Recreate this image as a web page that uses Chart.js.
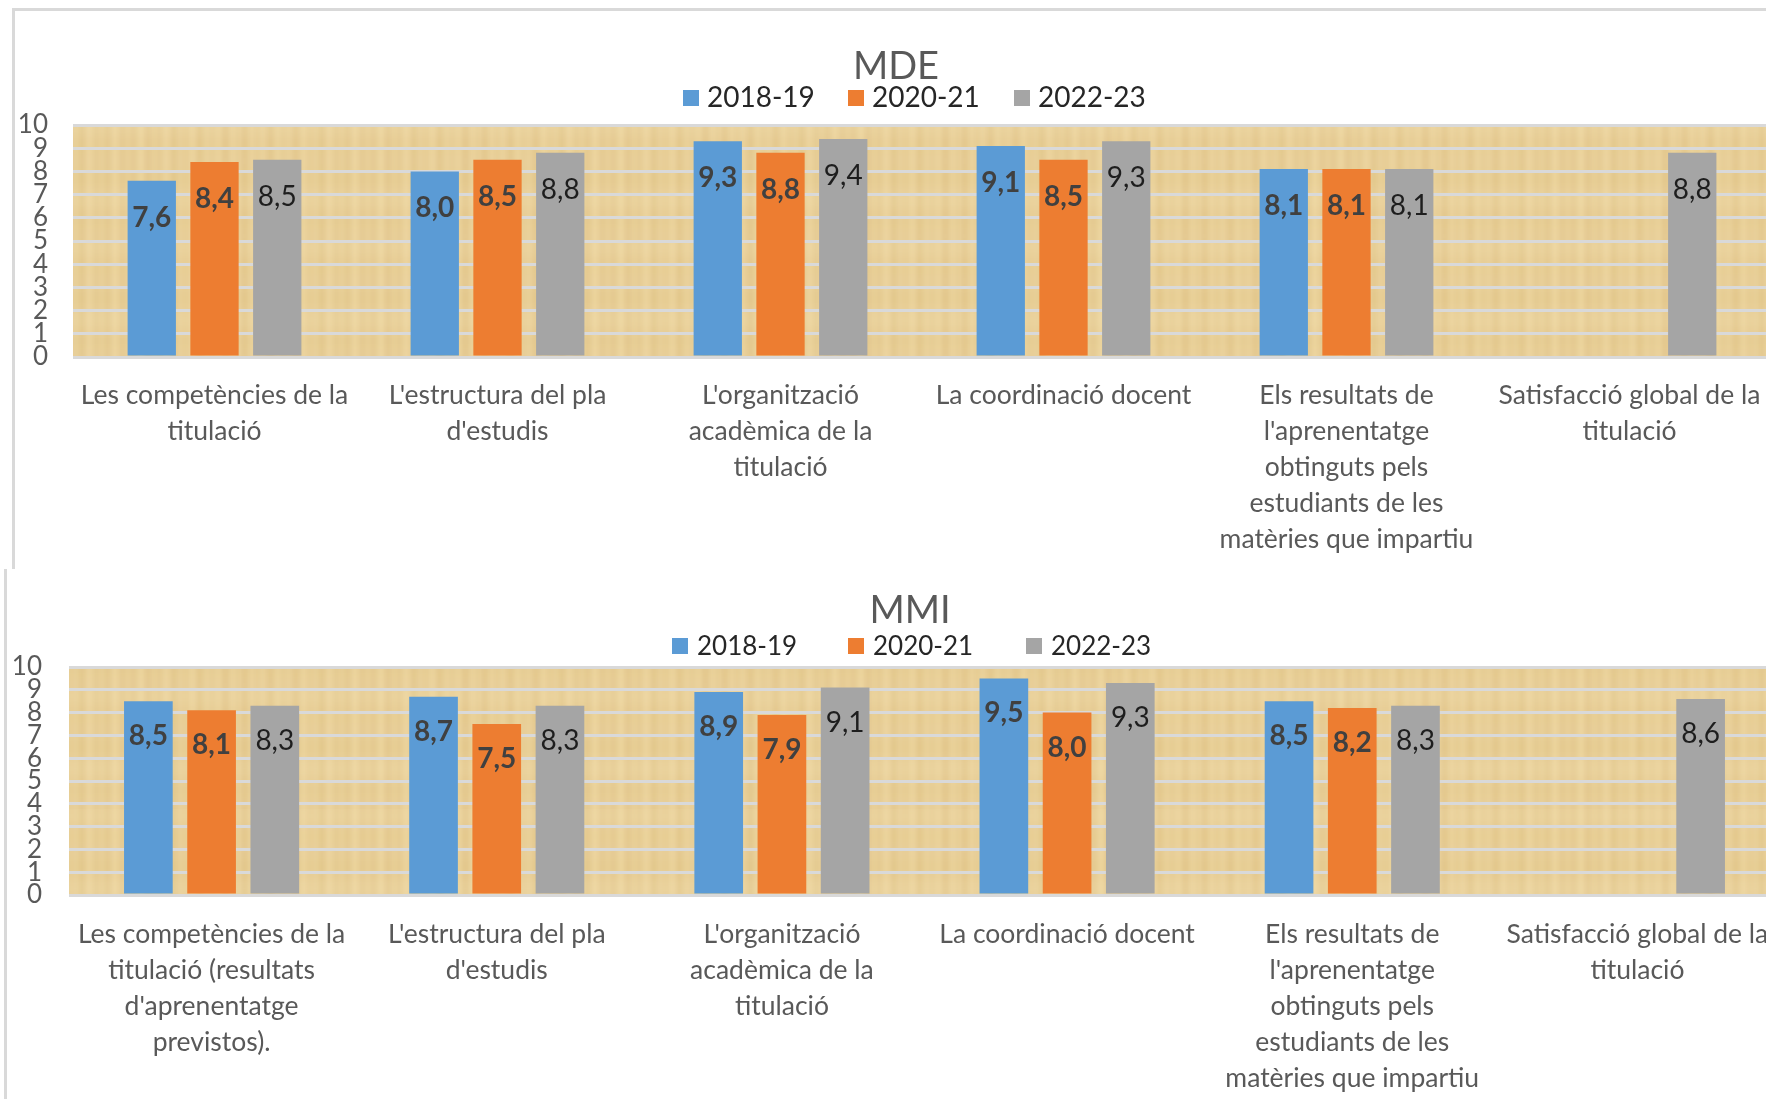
<!DOCTYPE html>
<html lang="ca">
<head>
<meta charset="utf-8">
<title>MDE / MMI</title>
<script src="https://cdn.jsdelivr.net/npm/chart.js@4.4.1/dist/chart.umd.min.js"></script>
<style>
  html, body { margin: 0; padding: 0; background: #fff; }
  body { width: 1766px; height: 1099px; overflow: hidden; position: relative; }
  .frame { position: absolute; background: #fff; box-sizing: border-box; }
  #frame-mde { left: 12px; top: 8px; width: 1900px; height: 570px; border-left: 3px solid #d9d9d9; border-top: 3px solid #d9d9d9; }
  #frame-mmi { left: 4px; top: 569px; width: 1900px; height: 600px; border-left: 3px solid #d9d9d9; }
  canvas { position: absolute; left: 0; }
  #mde { top: 0; }
  #mmi { top: 569px; }
</style>
</head>
<body>
<div class="frame" id="frame-mde"></div>
<div class="frame" id="frame-mmi"></div>
<canvas id="mde" width="1800" height="566"></canvas>
<canvas id="mmi" width="1800" height="530"></canvas>
<script>
// dades
const seriesLabels = ['2018-19', '2020-21', '2022-23'];
const seriesColors = ['#5b9bd5', '#ed7d31', '#a5a5a5'];

const categoriesMDE = [
  ['Les competències de la', 'titulació'],
  ["L'estructura del pla", "d'estudis"],
  ["L'organització", 'acadèmica de la', 'titulació'],
  ['La coordinació docent'],
  ['Els resultats de', "l'aprenentatge", 'obtinguts pels', 'estudiants de les', 'matèries que impartiu'],
  ['Satisfacció global de la', 'titulació']
];
const categoriesMMI = [
  ['Les competències de la', 'titulació (resultats', "d'aprenentatge", 'previstos).'],
  ["L'estructura del pla", "d'estudis"],
  ["L'organització", 'acadèmica de la', 'titulació'],
  ['La coordinació docent'],
  ['Els resultats de', "l'aprenentatge", 'obtinguts pels', 'estudiants de les', 'matèries que impartiu'],
  ['Satisfacció global de la', 'titulació']
];

const mde2018 = [7.6, 8.0, 9.3, 9.1, 8.1, null];
const mde2020 = [8.4, 8.5, 8.8, 8.5, 8.1, null];
const mde2022 = [8.5, 8.8, 9.4, 9.3, 8.1, 8.8];

const mmi2018 = [8.5, 8.7, 8.9, 9.5, 8.5, null];
const mmi2020 = [8.1, 7.5, 7.9, 8.0, 8.2, null];
const mmi2022 = [8.3, 8.3, 9.1, 9.3, 8.3, 8.6];

const yMin = 0;
const yMax = 10;
const yStep = 1;

const FONT = "Lato, 'Open Sans', sans-serif";

function valueText(v) {
  return v.toFixed(1).replace('.', ',');
}

// fons de paper
function makeParchment(ctx) {
  const c = document.createElement('canvas');
  c.width = 240;
  c.height = 120;
  const g = c.getContext('2d');
  g.fillStyle = '#ebd29a';
  g.fillRect(0, 0, c.width, c.height);
  for (let x = 0; x < c.width; x++) {
    const a = 0.5 + 0.5 * Math.sin(x * 0.37) * Math.sin(x * 0.113 + 1.3);
    g.fillStyle = `rgba(196,156,84,${0.2 * a})`;
    g.fillRect(x, 0, 1, c.height);
  }
  for (let y = 0; y < c.height; y++) {
    const a = 0.5 + 0.5 * Math.sin(y * 0.13 + 0.7) * Math.cos(y * 0.041);
    g.fillStyle = `rgba(255,246,220,${0.14 * a})`;
    g.fillRect(0, y, c.width, 1);
  }
  return ctx.createPattern(c, 'repeat');
}

function buildChart(canvasId, title, categories, values, geo) {
  const canvas = document.getElementById(canvasId);
  const ctx = canvas.getContext('2d');
  const pattern = makeParchment(ctx);

  const decor = {
    id: 'decor',
    beforeDraw(chart) {
      const a = chart.chartArea;
      const c = chart.ctx;
      c.save();
      c.fillStyle = pattern;
      c.fillRect(a.left, a.top, a.right - a.left, a.bottom - a.top);
      c.restore();
    },
    afterDatasetsDraw(chart) {
      const c = chart.ctx;
      c.save();
      c.textAlign = 'center';
      c.textBaseline = 'middle';
      chart.data.datasets.forEach((ds, i) => {
        const meta = chart.getDatasetMeta(i);
        meta.data.forEach((bar, j) => {
          const v = ds.data[j];
          if (v == null) return;
          c.font = (i < 2 ? 'bold ' : '') + geo.valueSize + 'px ' + FONT;
          c.fillStyle = i < 2 ? '#404040' : '#1e1e1e';
          c.fillText(valueText(v), bar.x, bar.y + geo.valueOffset);
        });
      });
      c.restore();
    },
    afterDraw(chart) {
      const c = chart.ctx;
      c.save();
      c.textBaseline = 'alphabetic';
      c.textAlign = 'center';
      c.fillStyle = '#595959';
      c.font = geo.titleSize + 'px ' + FONT;
      c.fillText(title, geo.titleX, geo.titleY);
      c.textAlign = 'left';
      c.font = geo.legendSize + 'px ' + FONT;
      chart.data.datasets.forEach((ds, i) => {
        const x = geo.legendX[i];
        c.fillStyle = ds.backgroundColor;
        c.fillRect(x, geo.legendBoxY, 16, 16);
        c.fillStyle = '#262626';
        c.fillText(ds.label, x + geo.legendGap, geo.legendTextY);
      });
      c.restore();
    }
  };

  return new Chart(ctx, {
    type: 'bar',
    data: {
      labels: categories,
      datasets: values.map((d, i) => ({
        label: seriesLabels[i],
        data: d,
        backgroundColor: seriesColors[i],
        categoryPercentage: 0.665,
        barPercentage: 0.77
      }))
    },
    options: {
      responsive: false,
      animation: false,
      layout: { padding: { top: geo.plotTop, right: geo.padRight, left: 0, bottom: 0 } },
      plugins: {
        legend: { display: false },
        title: { display: false },
        tooltip: { enabled: false }
      },
      scales: {
        x: {
          grid: { display: false },
          border: { display: false },
          ticks: {
            color: '#595959',
            font: { family: FONT, size: 26.5, lineHeight: 1.35 },
            padding: geo.xPad,
            maxRotation: 0,
            minRotation: 0,
            autoSkip: false
          },
          afterFit(s) { s.height = geo.xAxisHeight; }
        },
        y: {
          min: yMin,
          max: yMax,
          grid: { color: '#d9d9d9', lineWidth: 3, drawTicks: false },
          border: { display: false },
          ticks: {
            stepSize: yStep,
            autoSkip: false,
            color: '#595959',
            font: { family: FONT, size: 26 },
            padding: geo.yPad
          },
          afterFit(s) { s.width = geo.yAxisWidth; }
        }
      }
    },
    plugins: [decor]
  });
}

buildChart('mde', 'MDE', categoriesMDE, [mde2018, mde2020, mde2022], {
  plotTop: 125, padRight: 29, xAxisHeight: 209, yAxisWidth: 73, yPad: 25, xPad: 13,
  titleX: 896, titleY: 79, titleSize: 38,
  legendX: [683, 848, 1014], legendBoxY: 90, legendTextY: 107, legendSize: 28, legendGap: 24,
  valueSize: 28, valueOffset: 37
});

buildChart('mmi', 'MMI', categoriesMMI, [mmi2018, mmi2020, mmi2022], {
  plotTop: 98, padRight: 20, xAxisHeight: 204, yAxisWidth: 69, yPad: 27, xPad: 14,
  titleX: 910, titleY: 54, titleSize: 38,
  legendX: [672, 848, 1026], legendBoxY: 69, legendTextY: 86, legendSize: 26, legendGap: 25,
  valueSize: 28, valueOffset: 35
});
</script>
</body>
</html>
